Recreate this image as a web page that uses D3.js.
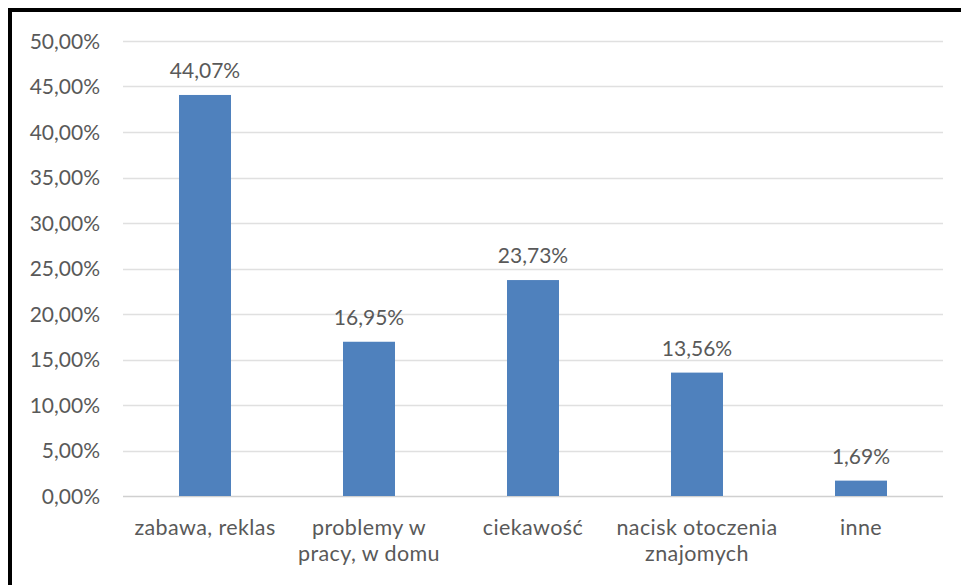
<!DOCTYPE html>
<html><head><meta charset="utf-8">
<script src="https://cdn.jsdelivr.net/npm/d3@7"></script>
<style>
html,body{margin:0;padding:0;background:#fff;}
svg{display:block;}
text{font-family:Lato,"Open Sans",sans-serif;fill:#595959;}
</style></head>
<body>
<svg id="c" width="961" height="585"></svg>
<script>
const categories = [["zabawa, reklas"],["problemy w","pracy, w domu"],["ciekawość"],["nacisk otoczenia","znajomych"],["inne"]];
const values = [44.07, 16.95, 23.73, 13.56, 1.69];
const valueLabels = ["44,07%","16,95%","23,73%","13,56%","1,69%"];
const yTicks = [0,5,10,15,20,25,30,35,40,45,50];
const yTickLabels = ["0,00%","5,00%","10,00%","15,00%","20,00%","25,00%","30,00%","35,00%","40,00%","45,00%","50,00%"];

(function(){
const svg = d3.select("#c");
svg.append("rect").attr("x",0).attr("y",0).attr("width",961).attr("height",585).attr("fill","#fff");
svg.append("rect").attr("x",8).attr("y",8).attr("width",953).attr("height",4).attr("fill","#000");
svg.append("rect").attr("x",8).attr("y",8).attr("width",4).attr("height",577).attr("fill","#000");

const pL=123, pR=943, pT=41, pB=496;
const x = d3.scaleBand().domain(d3.range(categories.length)).range([pL,pR]).paddingInner(0.683).paddingOuter(0.3415);
const y = d3.scaleLinear().domain([0,50]).range([pB,pT]);

const g = svg.append("g");
g.selectAll("line.grid").data(yTicks).enter().append("line")
  .attr("x1",pL).attr("x2",pR)
  .attr("y1",d=>Math.round(y(d))+0.5).attr("y2",d=>Math.round(y(d))+0.5)
  .attr("stroke",d=>d===0?"#d0d0d0":"#e0e0e0").attr("stroke-width",1.5);

g.selectAll("text.ytick").data(yTicks).enter().append("text")
  .attr("x",100).attr("y",d=>y(d)).attr("dy","0.36em")
  .attr("text-anchor","end").attr("font-size",21)
  .text((d,i)=>yTickLabels[i]);

g.selectAll("rect.bar").data(values).enter().append("rect")
  .attr("x",(d,i)=>x(i)).attr("width",x.bandwidth())
  .attr("y",d=>y(d)).attr("height",d=>y(0)-y(d))
  .attr("fill","#4f81bd");

g.selectAll("text.val").data(values).enter().append("text")
  .attr("x",(d,i)=>x(i)+x.bandwidth()/2).attr("y",d=>y(d)-17)
  .attr("text-anchor","middle").attr("font-size",21)
  .text((d,i)=>valueLabels[i]);

categories.forEach((lines,i)=>{
  const cx = x(i)+x.bandwidth()/2;
  const t = g.append("text").attr("text-anchor","middle").attr("font-size",21.5)
    .attr("letter-spacing",0.4).attr("x",cx).attr("y",535);
  lines.forEach((l,j)=>t.append("tspan").attr("x",cx).attr("dy",j===0?0:26).text(l));
});
})();
</script>
</body></html>
